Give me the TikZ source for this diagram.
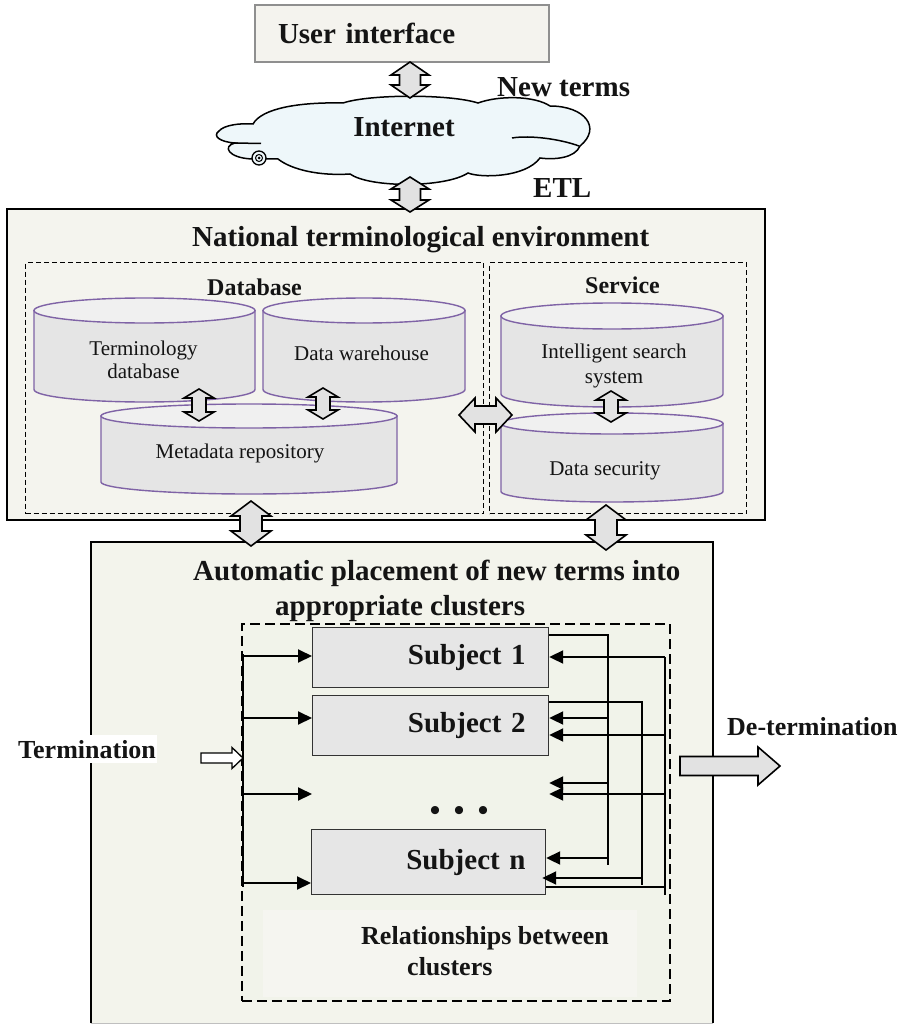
\documentclass[tikz,border=0pt]{standalone}
\usepackage{fontspec}
\setmainfont{Liberation Serif}
\usetikzlibrary{arrows.meta,calc}
\definecolor{panelbg}{HTML}{F4F4EE}
\definecolor{lowbg}{HTML}{F3F4EC}
\definecolor{clusbg}{HTML}{F1F3EA}
\definecolor{relbg}{HTML}{F5F5F0}
\definecolor{cylbody}{HTML}{E5E5E5}
\definecolor{cyltop}{HTML}{F0F0F0}
\definecolor{cylline}{HTML}{7F63A6}
\definecolor{arrfill}{HTML}{E2E2E2}
\definecolor{cloudfill}{HTML}{EEF7FA}
\definecolor{subjfill}{HTML}{E6E6E6}
\definecolor{inkc}{HTML}{141414}
\definecolor{uibg}{HTML}{F4F3EE}
\definecolor{uiline}{HTML}{8F8F8F}

\tikzset{
 fbig/.style={font=\fontsize{29}{33}\selectfont\bfseries, text=inkc, inner sep=0pt},
 fmid/.style={font=\fontsize{26}{30}\selectfont\bfseries, text=inkc, inner sep=0pt},
 fsmall/.style={font=\fontsize{24}{28}\selectfont\bfseries, text=inkc, inner sep=0pt},
 fcyl/.style={font=\fontsize{21}{23}\selectfont, text=inkc, inner sep=0pt, align=center},
 cylstyle/.style={draw=cylline, line width=1.4pt},
 cloudline/.style={draw=black, line width=1.5pt},
 blockarrow/.style={draw=black, line width=1.6pt, fill=arrfill, line join=miter},
 openarrow/.style={draw=black, line width=1.3pt, fill=white, line join=miter},
 conn/.style={draw=black, line width=2pt},
 connarr/.style={conn, -{Triangle[length=14pt,width=13pt]}},
 dashbox/.style={draw=black, line width=1.1pt, dash pattern=on 5pt off 3pt, inner sep=0pt},
 subj/.style={draw=black!80, line width=1.2pt, fill=subjfill, anchor=north west,
   font=\fontsize{29}{33}\selectfont\bfseries, text=inkc, inner xsep=0pt, inner ysep=0pt, align=right},
}

\newcommand\cylshape[5]{% cx, top, bottom, half width, ry
 \filldraw[cylstyle, fill=cylbody] ({#1-#4},{#2+#5}) -- ({#1-#4},{#3-#5})
   .. controls ({#1-#4},{#3-#5+0.552*#5}) and ({#1-0.552*#4},{#3}) .. ({#1},{#3})
   .. controls ({#1+0.552*#4},{#3}) and ({#1+#4},{#3-#5+0.552*#5}) .. ({#1+#4},{#3-#5})
   -- ({#1+#4},{#2+#5}) -- cycle;
 \filldraw[cylstyle, fill=cyltop] ({#1},{#2+#5}) ellipse [x radius=#4, y radius=#5];
}
% vertical double block arrow: top coord, bottom coord, head half, shaft half, head length
\newcommand\vdarr[5]{%
 \draw[blockarrow] let \p1=(#1), \p2=(#2) in
  (\x1,\y1) -- (\x1+#3pt,\y1-#5pt) -- (\x1+#4pt,\y1-#5pt) -- (\x1+#4pt,\y2+#5pt)
  -- (\x1+#3pt,\y2+#5pt) -- (\x1,\y2) -- (\x1-#3pt,\y2+#5pt) -- (\x1-#4pt,\y2+#5pt)
  -- (\x1-#4pt,\y1-#5pt) -- (\x1-#3pt,\y1-#5pt) -- cycle;}
% horizontal double block arrow: left coord, right coord, head half, shaft half, head length
\newcommand\hdarr[5]{%
 \draw[blockarrow] let \p1=(#1), \p2=(#2) in
  (\x1,\y1) -- (\x1+#5pt,\y1+#3pt) -- (\x1+#5pt,\y1+#4pt) -- (\x2-#5pt,\y1+#4pt)
  -- (\x2-#5pt,\y1+#3pt) -- (\x2,\y1) -- (\x2-#5pt,\y1-#3pt) -- (\x2-#5pt,\y1-#4pt)
  -- (\x1+#5pt,\y1-#4pt) -- (\x1+#5pt,\y1-#3pt) -- cycle;}
% single right block arrow: left coord, right coord, head half, shaft half, head length, style
\newcommand\rarr[6]{%
 \draw[#6] let \p1=(#1), \p2=(#2) in
  (\x1,\y1+#4pt) -- (\x2-#5pt,\y1+#4pt) -- (\x2-#5pt,\y1+#3pt) -- (\x2,\y1)
  -- (\x2-#5pt,\y1-#3pt) -- (\x2-#5pt,\y1-#4pt) -- (\x1,\y1-#4pt) -- cycle;}

\begin{document}
\begin{tikzpicture}[x=1pt,y=-1pt]
\useasboundingbox (0,0) rectangle (911,1024);
\fill[white] (0,0) rectangle (911,1024);

% ---------- top: user interface and internet ----------
\node[draw=uiline, line width=2.2pt, fill=uibg, minimum width=294, minimum height=57,
      text width=248, align=left, inner xsep=0pt, inner ysep=0pt,
      font=\fontsize{29}{33}\selectfont\bfseries, text=inkc] (ui) at (402,33.5) {User interface};

% cloud outline
\filldraw[cloudline, fill=cloudfill]
  (253,124) .. controls (262,108) and (300,102) .. (343,103)
  .. controls (370,94) and (450,94) .. (478,103)
  .. controls (500,95) and (535,96) .. (550,106)
  .. controls (585,106) and (602,128) .. (580,146)
  .. controls (575,158) and (555,160) .. (540,158)
  .. controls (525,178) and (480,178) .. (468,173)
  .. controls (445,188) and (370,188) .. (350,174)
  .. controls (320,176) and (292,170) .. (278,159)
  -- (252,159)
  .. controls (228,158) and (222,146) .. (235,143)
  .. controls (220,142) and (212,136) .. (219,131)
  .. controls (224,125) and (240,123) .. (253,124) -- cycle;
\draw[cloudline] (235,143) -- (261,143.5);
\draw[cloudline] (579,146) .. controls (560,139) and (530,135) .. (512,138);
\fill[cloudfill] (259,158) circle[radius=7];
\draw[line width=1.3pt] (259,158) circle[radius=7];
\draw[line width=1pt] (259,158) circle[radius=3.5];
\fill (259,158) circle[radius=1.5];
\node[fbig, anchor=base] (net) at (404,137) {Internet};

\node[fbig, anchor=base west] (newterms) at (497,97) {New terms};
\node[fbig, anchor=base west] (etl) at (533,198) {ETL};

% ---------- national terminological environment ----------
\node[draw=black, line width=2pt, fill=panelbg, minimum width=758, minimum height=311,
      anchor=north west, inner sep=0pt] (nte) at (6,208) {};
\node[fbig, anchor=base west] (ntetitle) at (192,247) {National terminological environment};
\node[dashbox, minimum width=458, minimum height=251, anchor=north west] (dbbox) at (25,262) {};
\node[dashbox, minimum width=257, minimum height=251, anchor=north west] (svbox) at (489,262) {};
\node[fsmall, anchor=base west] (dbtitle) at (207,295) {Database};
\node[fsmall, anchor=base west] (svtitle) at (585,293) {Service};

\cylshape{144.5}{298}{402}{110.5}{12.5}
\cylshape{364}{298}{402}{101}{12.5}
\cylshape{249}{404}{494}{148}{12}
\cylshape{612}{303}{407}{111}{13}
\cylshape{612}{413}{502}{111}{10.5}

\node[fcyl] (term) at (143.5,359.4) {Terminology\\database};
\node[fcyl, anchor=base] (wh) at (361.5,360) {Data warehouse};
\node[fcyl, anchor=base] (meta) at (240,458) {Metadata repository};
\node[fcyl, font=\fontsize{21}{25}\selectfont] (iss) at (614,365.6) {Intelligent search\\system};
\node[fcyl, anchor=base] (ds) at (605,475) {Data security};

% ---------- automatic placement ----------
\node[fill=lowbg, minimum width=622, minimum height=481, anchor=north west, inner sep=0pt] (low) at (91,542) {};
\draw[line width=2pt] (low.south west) -- (low.north west) -- (low.north east) -- (low.south east);
\draw[black!25, line width=1.5pt] (low.south west) -- (low.south east);
\node[fbig, anchor=base west] (lowt1) at (193,580) {Automatic placement of new terms into};
\node[fbig, anchor=base west] (lowt2) at (275,615) {appropriate clusters};

\node[fill=clusbg, draw=black, line width=1.6pt, dash pattern=on 10pt off 5pt,
      minimum width=428, minimum height=377, anchor=north west, inner sep=0pt] (clus) at (241,623) {};
\node[fill=relbg, minimum width=374, minimum height=87, anchor=north west, inner sep=0pt] (rel) at (263,910) {};
\node[fmid, anchor=base west] (rel1) at (361,944) {Relationships between};
\node[fmid, anchor=base west] (rel2) at (407,975) {clusters};

\node[subj, minimum width=236, minimum height=60, text width=190] (s1) at (312,627) {Subject 1};
\node[subj, minimum width=236, minimum height=60, text width=190] (s2) at (312,695) {Subject 2};
\node[subj, minimum width=234, minimum height=65, text width=194] (sn) at (311,829) {Subject n};
\node[font=\fontsize{30}{33}\selectfont\bfseries, text=inkc, inner sep=0pt] (dots) at (459,813) {•\kern13.5pt•\kern13.5pt•};

% left bus
\coordinate (L0) at (243,654);
\coordinate (L1) at (243,656);
\coordinate (L2) at (243,718);
\coordinate (L3) at (243,794);
\coordinate (L4) at (243,883);
\coordinate (L5) at (243,887);
\draw[conn] (L0) -- (L5);
\draw[connarr] (L1) -- (s1.west |- L1);
\draw[connarr] (L2) -- (s2.west |- L2);
\draw[connarr] (L3) -- (s1.west |- L3);
\draw[connarr] (L4) -- (sn.west |- L4);

% right side feedback lines
\coordinate (A0) at (608,635);
\coordinate (A1) at (608,718);
\coordinate (A2) at (608,783);
\coordinate (A3) at (608,858);
\coordinate (A4) at (608,865);
\draw[conn] (s1.east |- A0) -- (A0) -- (A4);
\draw[connarr] (A1) -- (s2.east |- A1);
\draw[connarr] (A2) -- (s2.east |- A2);
\draw[connarr] (A3) -- (sn.east |- A3);

\coordinate (B0) at (642,702);
\coordinate (B1) at (642,878);
\coordinate (B2) at (642,885);
\draw[conn] (s2.east |- B0) -- (B0) -- (B2);
\draw[connarr] (B1) -- ($(sn.east |- B1)+(-4,0)$);

\coordinate (C0) at (665,657);
\coordinate (C1) at (665,735);
\coordinate (C2) at (665,794);
\coordinate (C3) at (665,887);
\coordinate (C4) at (665,895);
\draw[conn] (C0) -- (C4);
\draw[connarr] (C0) -- (s1.east |- C0);
\draw[connarr] (C1) -- (s2.east |- C1);
\draw[connarr] (C2) -- (s2.east |- C2);
\draw[conn] (sn.east |- C3) -- (C3);

% termination / de-termination
\node[fmid, fill=white, inner xsep=1pt, inner ysep=5pt, anchor=base west] (term-in) at (17,758) {Termination};
\coordinate (T0) at (201,758);
\coordinate (T1) at (243,758);
\rarr{T0}{T1}{10.5}{5}{11}{openarrow}
\node[fmid, anchor=base west] (term-out) at (727,735) {De-termination};
\coordinate (D0) at (680,766);
\coordinate (D1) at (780,766);
\rarr{D0}{D1}{19}{9.5}{22}{blockarrow}

% ---------- block double arrows ----------
\coordinate (u1) at (410,62);   \coordinate (u2) at (410,98);
\coordinate (e1) at (410,177);  \coordinate (e2) at (410,212);
\coordinate (m1) at (199,389);  \coordinate (m2) at (199,421);
\coordinate (w1) at (323,388);  \coordinate (w2) at (323,419);
\coordinate (i1) at (611,391);  \coordinate (i2) at (611,422);
\coordinate (h1) at (459,415);  \coordinate (h2) at (512,415);
\coordinate (p1) at (251,501);  \coordinate (p2) at (251,546);
\coordinate (q1) at (606,505);  \coordinate (q2) at (606,550);
\vdarr{u1}{u2}{19}{10.5}{13}
\vdarr{e1}{e2}{19}{10.5}{12}
\vdarr{m1}{m2}{15}{7}{9}
\vdarr{w1}{w2}{15}{7}{9}
\vdarr{i1}{i2}{15}{7}{9}
\hdarr{h1}{h2}{17}{9}{16}
\vdarr{p1}{p2}{20}{11}{15}
\vdarr{q1}{q2}{20}{11}{15}
\end{tikzpicture}
\end{document}
